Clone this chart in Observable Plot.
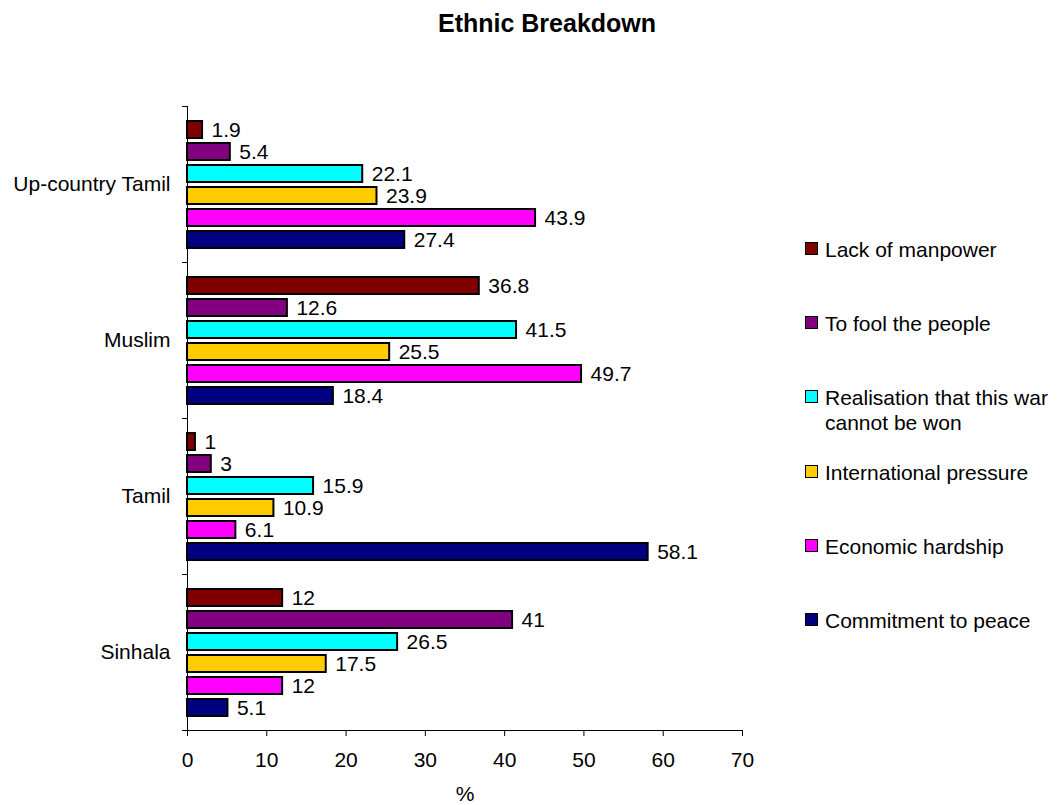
<!DOCTYPE html>
<html>
<head>
<meta charset="utf-8">
<script src="https://cdn.jsdelivr.net/npm/d3@7"></script>
<script src="https://cdn.jsdelivr.net/npm/@observablehq/plot@0.6"></script>
<style>
  html, body { margin: 0; padding: 0; background: #fff; }
  #wrap { position: relative; width: 1057px; height: 805px; font-family: "Liberation Sans", Arial, sans-serif; color: #000; }
  #wrap svg { position: absolute; left: 0; top: 0; }
  #title { position: absolute; left: 547px; top: 11px; transform: translateX(-50%); font-size: 25px; line-height: 25px; font-weight: bold; white-space: nowrap; }
  .item { position: absolute; left: 805px; display: flex; align-items: flex-start; font-size: 21px; line-height: 25px; }
  .sw { width: 11px; height: 11px; border: 1.5px solid #000; margin-top: 5px; margin-right: 7px; flex: none; }
  .lab { width: 231px; }
</style>
</head>
<body>
<div id="wrap">
  <div id="title">Ethnic Breakdown</div>
</div>
<script>
const groups = ["Up-country Tamil", "Muslim", "Tamil", "Sinhala"];
const reasons = ["Lack of manpower", "To fool the people", "Realisation that this war cannot be won", "International pressure", "Economic hardship", "Commitment to peace"];
const colors = ["#800000", "#800080", "#00FFFF", "#FFCC00", "#FF00FF", "#000080"];
const upCountryTamil = [1.9, 5.4, 22.1, 23.9, 43.9, 27.4];
const muslim = [36.8, 12.6, 41.5, 25.5, 49.7, 18.4];
const tamil = [1, 3, 15.9, 10.9, 6.1, 58.1];
const sinhala = [12, 41, 26.5, 17.5, 12, 5.1];
const xTicks = [0, 10, 20, 30, 40, 50, 60, 70];

const series = [upCountryTamil, muslim, tamil, sinhala];
const data = [];
groups.forEach((g, gi) => reasons.forEach((r, ri) => data.push({group: g, reason: r, value: series[gi][ri]})));

const font = "\"Liberation Sans\", Arial, sans-serif";
const chart = Plot.plot({
  width: 1057,
  height: 805,
  marginLeft: 187,
  marginRight: 315,
  marginTop: 105,
  marginBottom: 74,
  style: {fontFamily: font, fontSize: "21px", background: "transparent", color: "#000"},
  x: {domain: [0, 70], axis: null},
  y: {domain: reasons, paddingInner: 0.24, paddingOuter: 0.61, axis: null},
  fy: {domain: groups, padding: 0, axis: null},
  color: {domain: reasons, range: colors},
  marks: [
    Plot.barX(data, {x: "value", y: "reason", fy: "group", fill: "reason", stroke: "#000", strokeWidth: 2}),
    Plot.text(data, {x: "value", y: "reason", fy: "group", text: d => String(d.value), dx: 9, textAnchor: "start", fontSize: 21, fill: "#000"}),
    Plot.ruleX([0], {stroke: "#000", strokeWidth: 1}),
    Plot.frame({anchor: "top", insetLeft: -5, insetRight: 555, stroke: "#000", strokeWidth: 1}),
    Plot.frame({anchor: "bottom", facetAnchor: "bottom", insetLeft: -5, stroke: "#000", strokeWidth: 1}),
    Plot.axisX({ticks: xTicks, tickSize: 6, tickPadding: 16, fontSize: 21, label: "%", labelArrow: "none", labelAnchor: "center", labelOffset: 70, stroke: "#000"}),
    Plot.axisFy({anchor: "left", tickSize: 0, tickPadding: 17, fontSize: 21, label: null})
  ]
});
const wrap = document.getElementById("wrap");
wrap.appendChild(chart);

const legendTop = 237, legendStep = 74.2;
reasons.forEach((r, i) => {
  const item = document.createElement("div");
  item.className = "item";
  item.style.top = (legendTop + i * legendStep) + "px";
  const sw = document.createElement("div");
  sw.className = "sw";
  sw.style.background = chart.scale("color").apply(r);
  const lab = document.createElement("div");
  lab.className = "lab";
  lab.textContent = r;
  item.appendChild(sw);
  item.appendChild(lab);
  wrap.appendChild(item);
});
</script>
</body>
</html>
